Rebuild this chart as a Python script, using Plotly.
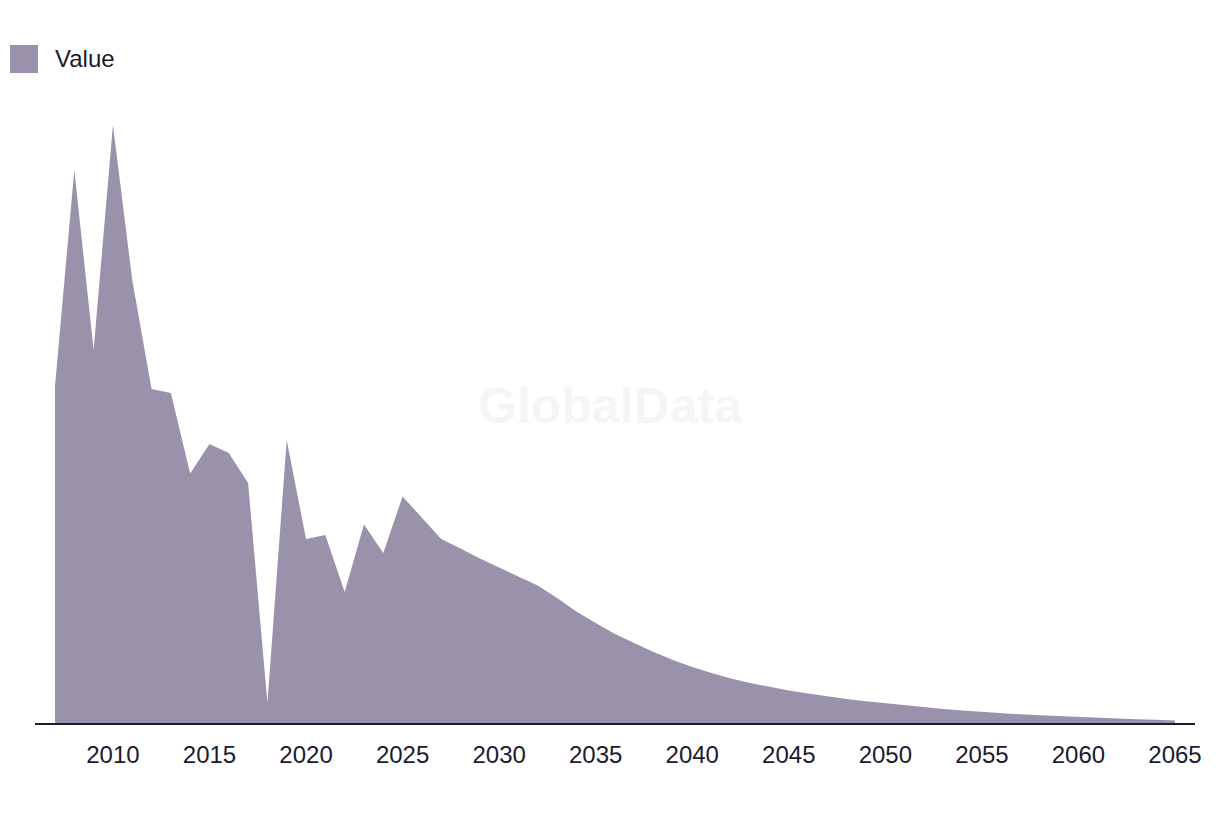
import plotly.graph_objects as go

# ---- data ----
years = list(range(2007, 2066))
values = [
    3.37, 5.53, 3.73, 5.98, 4.43, 3.34, 3.30, 2.495, 2.79, 2.70,
    2.40, 0.20, 2.83, 1.84, 1.88, 1.31, 1.985, 1.70, 2.265, 2.055,
    1.84, 1.745, 1.645, 1.555, 1.465, 1.375, 1.25, 1.115, 1.00, 0.89,
    0.80, 0.71, 0.63, 0.56, 0.50, 0.445, 0.40, 0.36, 0.325, 0.295,
    0.265, 0.24, 0.218, 0.197, 0.177, 0.158, 0.141, 0.125, 0.111, 0.098,
    0.087, 0.077, 0.068, 0.060, 0.052, 0.045, 0.038, 0.032, 0.026,
]
tick_vals = list(range(2010, 2066, 5))
tick_text = [str(v) for v in tick_vals]
series_name = "Value"

# ---- style ----
W, H = 1220, 814
ML, MR, MT, MB = 35, 25, 100, 91
FILL = "#9a92aa"
DARK = "#1b1a2e"
FONT = "Liberation Sans, Arial, sans-serif"

pw = W - ML - MR
ph = H - MT - MB


def px_to_paper_x(px):
    return (px - ML) / pw


def px_to_paper_y(py):
    return (H - MB - py) / ph


fig = go.Figure()
fig.add_trace(go.Scatter(
    x=years, y=values, name=series_name,
    mode="lines", line=dict(width=0, color=FILL),
    fill="tozeroy", fillcolor=FILL,
    showlegend=False, hoverinfo="x+y",
))

# manual legend
fig.add_shape(type="rect", xref="paper", yref="paper",
              x0=px_to_paper_x(10), x1=px_to_paper_x(38),
              y0=px_to_paper_y(73), y1=px_to_paper_y(45),
              fillcolor=FILL, line=dict(width=0))
fig.add_annotation(xref="paper", yref="paper",
                   x=px_to_paper_x(53), y=px_to_paper_y(59),
                   xanchor="left", yanchor="middle", showarrow=False,
                   text=series_name, font=dict(family=FONT, size=24, color=DARK))

# watermark
fig.add_annotation(xref="paper", yref="paper",
                   x=px_to_paper_x(610), y=px_to_paper_y(406),
                   xanchor="center", yanchor="middle", showarrow=False,
                   text="<b>GlobalData</b>",
                   font=dict(family=FONT, size=50, color="#f5f5f5"))

pad = 20 / (pw - 40) * (years[-1] - years[0])
fig.update_layout(
    width=W, height=H,
    margin=dict(l=ML, r=MR, t=MT, b=MB),
    paper_bgcolor="white", plot_bgcolor="white",
    font=dict(family=FONT, color=DARK),
    xaxis=dict(
        range=[years[0] - pad, years[-1] + pad],
        tickvals=tick_vals, ticktext=tick_text,
        tickfont=dict(family=FONT, size=24, color=DARK),
        showgrid=False, zeroline=False,
        showline=True, linecolor=DARK, linewidth=2,
        ticks="", ticklabelstandoff=9,
    ),
    yaxis=dict(
        range=[0, 6.23], visible=False,
        showgrid=False, zeroline=False,
    ),
)

fig.write_html("out.html")
